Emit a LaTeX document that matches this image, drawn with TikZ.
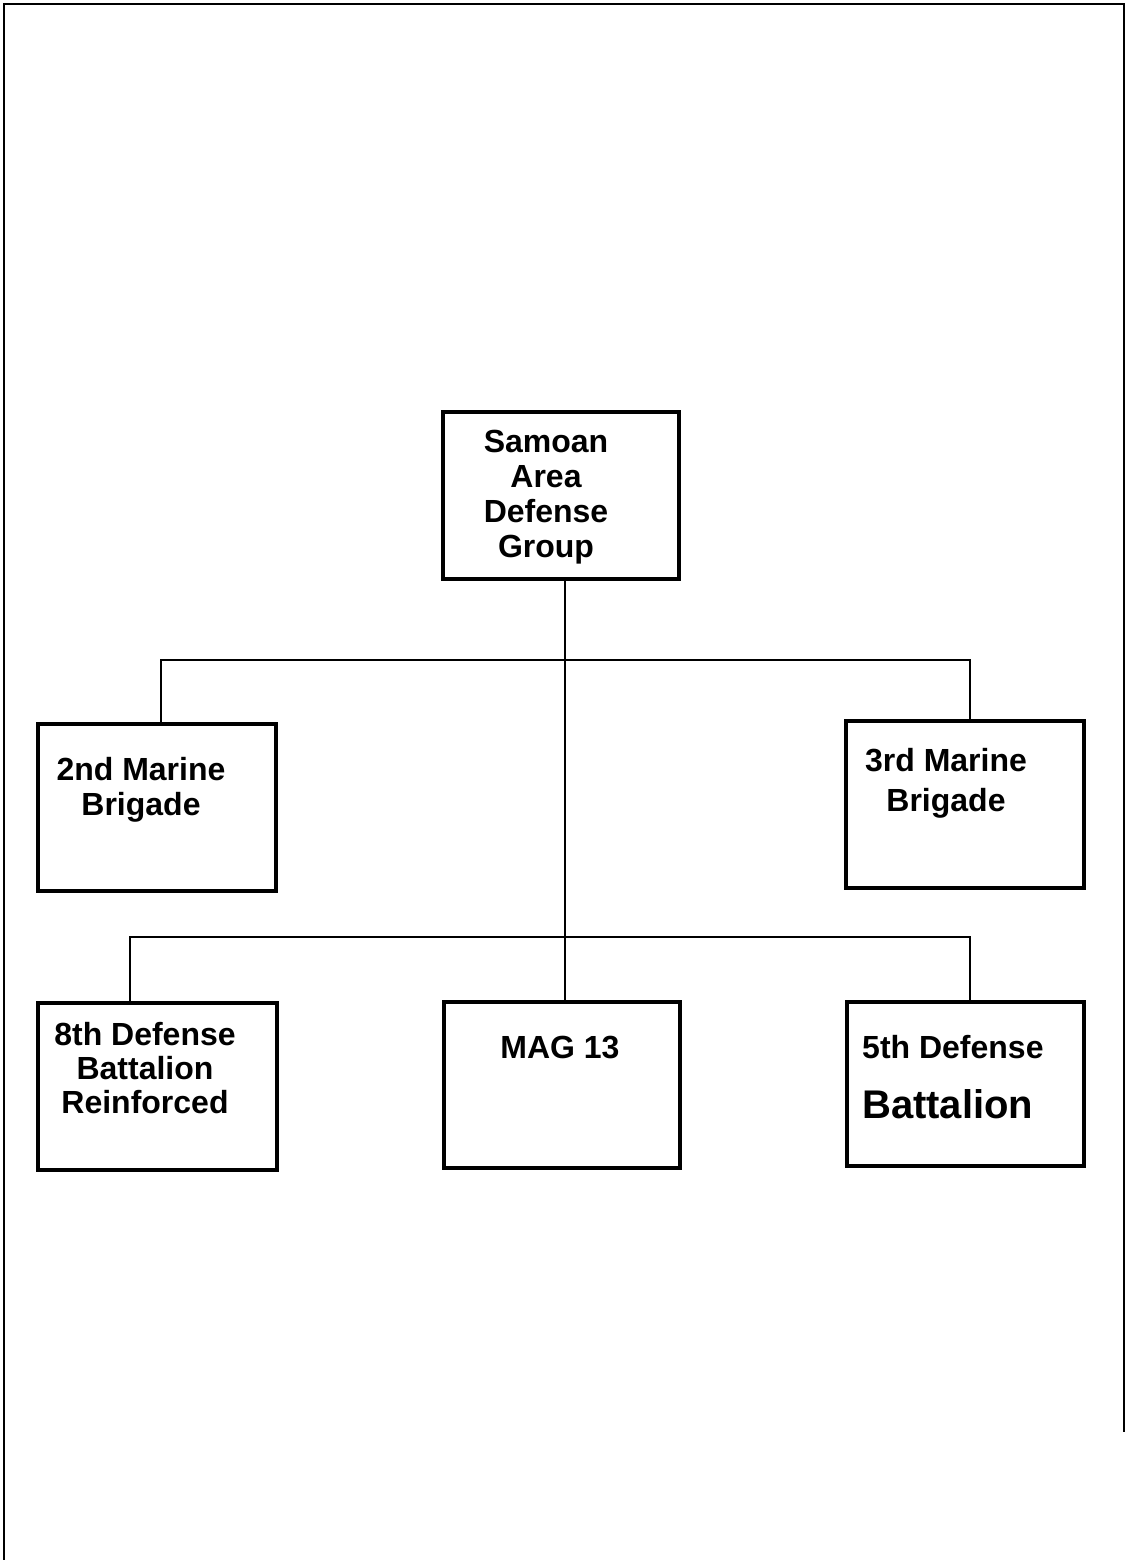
\documentclass[tikz,border=0pt]{standalone}
\usepackage{fontspec}
\setmainfont{Liberation Sans}
\begin{document}
\begin{tikzpicture}[x=1pt,y=-1pt,
  unitbox/.style={draw=black,line width=4pt,minimum width=#1,inner sep=0pt,anchor=north west},
  lbl/.style={font=\bfseries\fontsize{32}{35}\selectfont,align=center,inner sep=0pt,anchor=base},
  conn/.style={line width=2pt,black}]
\useasboundingbox (0,0) rectangle (1127,1560);
\fill[white] (0,0) rectangle (1127,1560);
% page frame (open at the bottom)
\draw[line width=2.5pt] (4,1560) -- (4,4) -- (1124,4) -- (1124,1432);
% boxes
\node[unitbox=236pt,minimum height=167pt] (sadg) at (441,410) {};
\node[unitbox=238pt,minimum height=167pt] (b2) at (36,722) {};
\node[unitbox=238pt,minimum height=167pt] (b3) at (844,719) {};
\node[unitbox=239pt,minimum height=167pt] (d8) at (36,1001) {};
\node[unitbox=236pt,minimum height=166pt] (mag) at (442,1000) {};
\node[unitbox=237pt,minimum height=164pt] (d5) at (845,1000) {};
% texts (anchor = baseline of the last line)
\node[lbl] (tsadg) at (546,557) {Samoan\\Area\\Defense\\Group};
\node[lbl,font=\bfseries\fontsize{32}{35}\selectfont] (tb2) at (141,815) {2nd Marine\\Brigade};
\node[lbl,font=\bfseries\fontsize{32}{40}\selectfont] (tb3) at (946,811) {3rd Marine\\Brigade};
\node[lbl,font=\bfseries\fontsize{32}{34}\selectfont] (td8) at (145,1113) {8th Defense\\Battalion\\Reinforced};
\node[lbl] (tmag) at (560,1058) {MAG 13};
\node[lbl,anchor=base west] (td5a) at (862,1058) {5th Defense};
\node[lbl,anchor=base west,font=\bfseries\fontsize{40}{44}\selectfont] (td5b) at (862,1118) {Battalion};
% connectors
\coordinate (j1) at (565,660);
\coordinate (j2) at (565,937);
\draw[conn] (sadg.south -| j1) -- (mag.north -| j1);
\draw[conn] (b2.north -| 161,0) |- (j1) -| (b3.north -| 970,0);
\draw[conn] (d8.north -| 130,0) |- (j2) -| (d5.north -| 970,0);
\end{tikzpicture}
\end{document}
